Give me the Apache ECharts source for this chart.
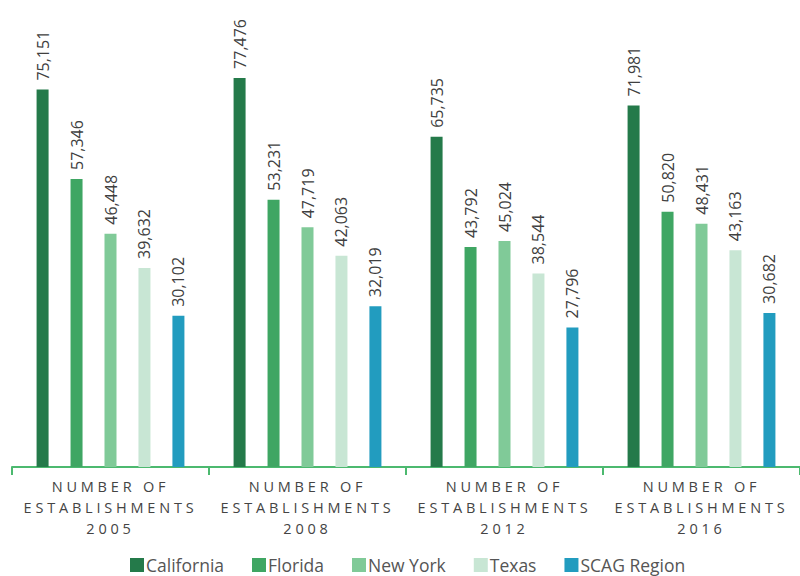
<!DOCTYPE html>
<html>
<head>
<meta charset="utf-8">
<script src="https://cdn.jsdelivr.net/npm/echarts@6/dist/echarts.min.js"></script>
<style>html,body{margin:0;padding:0;background:#fff}#chart{width:800px;height:576px}</style>
</head>
<body>
<div id="chart"></div>
<script>
const categories = ['NUMBER OF\nESTABLISHMENTS\n2005', 'NUMBER OF\nESTABLISHMENTS\n2008', 'NUMBER OF\nESTABLISHMENTS\n2012', 'NUMBER OF\nESTABLISHMENTS\n2016'];
const seriesNames = ['California', 'Florida', 'New York', 'Texas', 'SCAG Region'];
const california = [75151, 77476, 65735, 71981];
const florida = [57346, 53231, 43792, 50820];
const newYork = [46448, 47719, 45024, 48431];
const texas = [39632, 42063, 38544, 43163];
const scag = [30102, 32019, 27796, 30682];
const colors = ['#247a4a', '#3fa663', '#80ca98', '#c8e6d4', '#229cbf'];
const values = [california, florida, newYork, texas, scag];

const FONT = 'Open Sans';
const chart = echarts.init(document.getElementById('chart'), null, {renderer: 'svg'});
chart.setOption({
  animation: false,
  textStyle: {fontFamily: FONT},
  grid: {left: 12, right: 0, top: 15, bottom: 109, containLabel: false, outerBoundsMode: 'none'},
  legend: {
    data: seriesNames, left: 130, top: 556, padding: 0, itemWidth: 14, itemHeight: 14, itemGap: 28,
    icon: 'rect',
    textStyle: {fontFamily: FONT, fontSize: 17.5, lineHeight: 18, color: '#555555', padding: [0, 0, 0, -3]}
  },
  xAxis: {
    type: 'category', data: categories,
    axisLine: {lineStyle: {color: '#4cb96f', width: 2}},
    axisTick: {show: true, length: 8, lineStyle: {color: '#4cb96f', width: 2}},
    axisLabel: {fontFamily: FONT, fontSize: 14.5, color: '#444444', lineHeight: 21, margin: 9, interval: 0}
  },
  yAxis: {type: 'value', min: 0, max: 90000, show: false, splitLine: {show: false}},
  series: seriesNames.map((n, i) => ({
    name: n, type: 'bar', data: values[i], barWidth: 12, barGap: '183%',
    itemStyle: {color: colors[i]},
    label: {
      show: true, position: 'top', rotate: 90, align: 'left', verticalAlign: 'middle', distance: 9,
      fontFamily: FONT, fontSize: 16, color: '#404040',
      formatter: p => p.value.toLocaleString('en-US')
    }
  }))
});
function spacing() {
  document.querySelectorAll('#chart text').forEach(t => {
    const s = t.textContent.trim();
    if (/^(NUMBER OF|ESTABLISHMENTS|\d{4})$/.test(s)) {
      t.setAttribute('letter-spacing', '3.8');
    }
  });
}
chart.on('finished', spacing);
setTimeout(spacing, 50);
</script>
</body>
</html>
